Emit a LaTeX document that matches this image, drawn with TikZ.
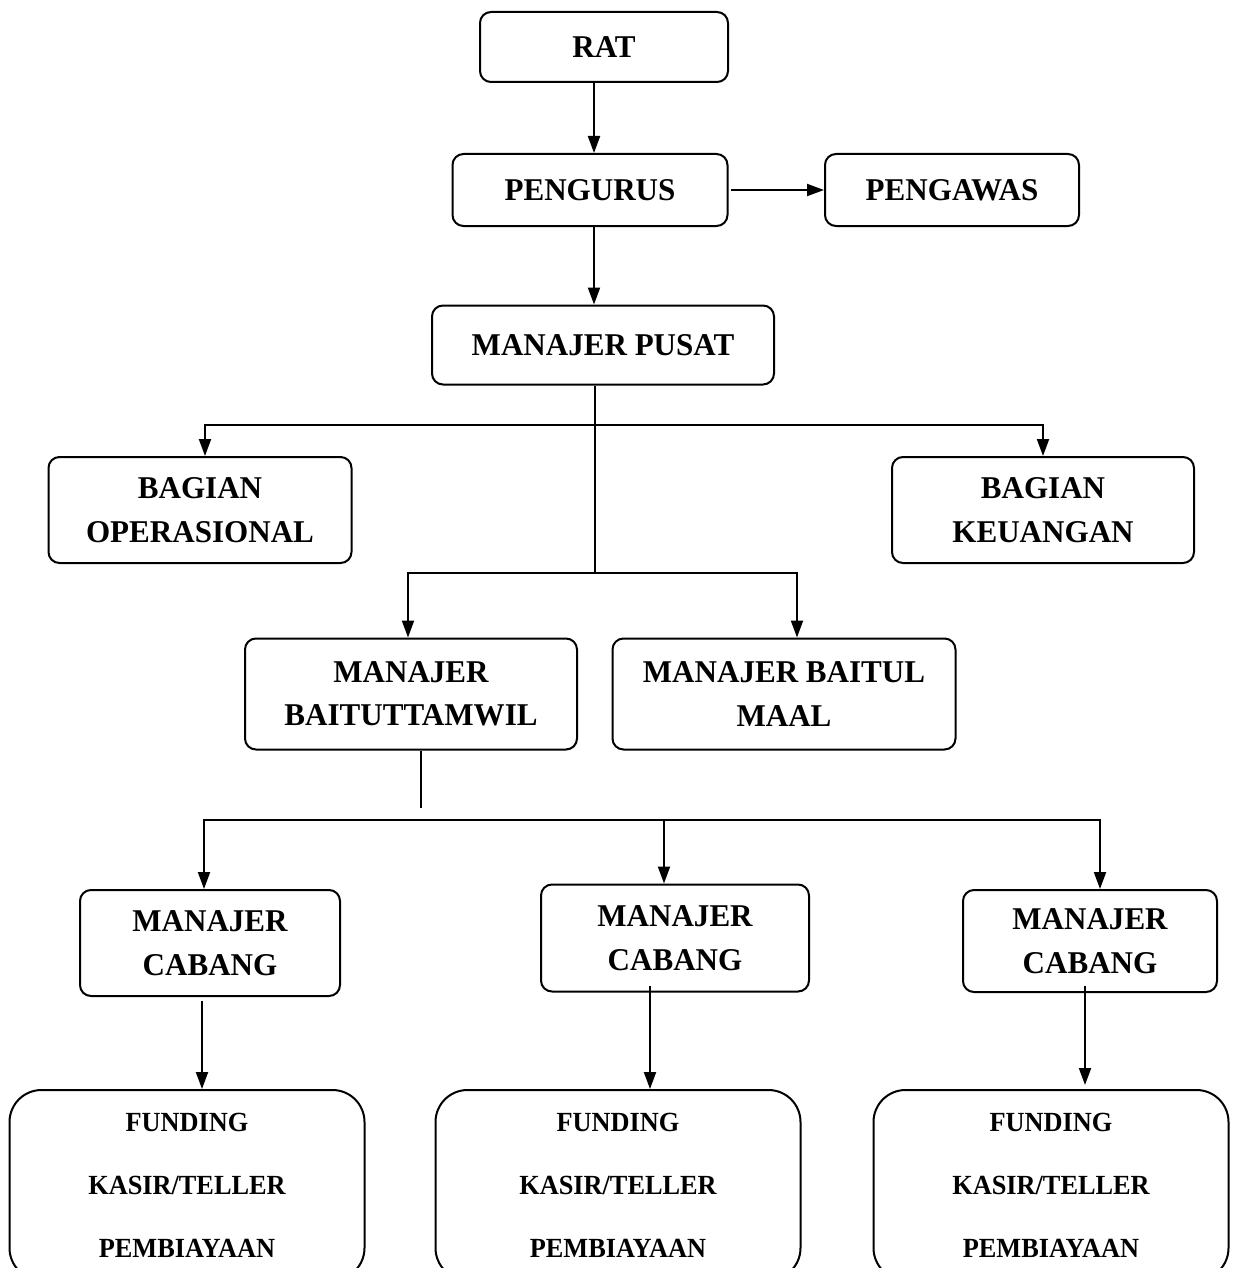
\documentclass[tikz,border=0pt]{standalone}
\usepackage{fontspec}
\setmainfont{Liberation Serif}
\newfontfamily\boxfont{Liberation Serif}[FakeStretch=0.98]
\newfontfamily\unitfont{Liberation Serif}[FakeStretch=0.95]
\usetikzlibrary{arrows.meta}

\tikzset{
  box/.style={draw, line width=2pt, rounded corners=11pt, align=center, inner sep=0pt,
    font=\boxfont\bfseries\fontsize{31.7pt}{43.5pt}\selectfont},
  unitbox/.style={draw, line width=2pt, rounded corners=32pt, align=center, inner sep=0pt,
    font=\unitfont\bfseries\fontsize{27.7pt}{63pt}\selectfont,
    minimum height=190pt},
  arr/.style={line width=2pt, -{Triangle[length=17pt,width=12pt]}},
  link/.style={line width=1.6pt}
}

\begin{document}
\begin{tikzpicture}[x=1pt,y=-1pt]
  \useasboundingbox (0,0) rectangle (1233,1268);
  \clip (0,0) rectangle (1233,1268);
  \begin{scope}
    \node[box, minimum width=248pt, minimum height=70pt] (rat) at (604,47) {RAT};
    \node[box, minimum width=275pt, minimum height=72pt] (pengurus) at (590,190) {PENGURUS};
    \node[box, minimum width=254pt, minimum height=72pt] (pengawas) at (952,190) {PENGAWAS};
    \node[box, minimum width=342pt, minimum height=79pt] (mpusat) at (603,345) {MANAJER PUSAT};

    \node[box, minimum width=303pt, minimum height=106pt] (opr) at (200,510) {BAGIAN\\OPERASIONAL};
    \node[box, minimum width=302pt, minimum height=106pt] (keu) at (1043,510) {BAGIAN\\KEUANGAN};

    \node[box, minimum width=332pt, minimum height=111pt] (mbt) at (411,694) {MANAJER\\BAITUTTAMWIL};
    \node[box, minimum width=343pt, minimum height=111pt] (mbm) at (784,694) {MANAJER BAITUL\\MAAL};

    \node[box, minimum width=260pt, minimum height=106pt] (cab1) at (210,943) {MANAJER\\CABANG};
    \node[box, minimum width=268pt, minimum height=107pt] (cab2) at (675,938) {MANAJER\\CABANG};
    \node[box, minimum width=254pt, minimum height=102pt] (cab3) at (1090,941) {MANAJER\\CABANG};

    \node[unitbox, minimum width=355pt] (unit1) at (187,1185) {FUNDING\\KASIR/TELLER\\PEMBIAYAAN};
    \node[unitbox, minimum width=365pt] (unit2) at (618,1185) {FUNDING\\KASIR/TELLER\\PEMBIAYAAN};
    \node[unitbox, minimum width=355pt] (unit3) at (1051,1185) {FUNDING\\KASIR/TELLER\\PEMBIAYAAN};

    \coordinate (t1) at (595,425);
    \coordinate (t2) at (595,573);
    \coordinate (t3) at (421,808);
    \coordinate (t4) at (664,820);

    \draw[arr] ([xshift=-10pt]rat.south) -- ([xshift=4pt]pengurus.north);
    \draw[arr] ([xshift=2pt]pengurus.east) -- (pengawas.west);
    \draw[arr] ([xshift=4pt]pengurus.south) -- ([xshift=-9pt]mpusat.north);

    \draw[link] ([xshift=-8pt]mpusat.south) -- (t2);
    \draw[arr] (t1) -| ([xshift=5pt]opr.north);
    \draw[arr] (t1) -| (keu.north);
    \draw[arr] (t2) -| ([xshift=-3pt]mbt.north);
    \draw[arr] (t2) -| ([xshift=13pt]mbm.north);

    \draw[link] ([xshift=10pt]mbt.south) -- (t3);
    \draw[arr] (t4) -| ([xshift=-6pt]cab1.north);
    \draw[arr] (t4) -- ([xshift=-11pt]cab2.north);
    \draw[arr] (t4) -| ([xshift=10pt]cab3.north);

    \draw[arr] ([xshift=-8pt,yshift=-4pt]cab1.south) -- ([xshift=15pt]unit1.north);
    \draw[arr] ([xshift=-25pt,yshift=7pt]cab2.south) -- ([xshift=32pt]unit2.north);
    \draw[arr] ([xshift=-5pt,yshift=7pt]cab3.south) -- ([xshift=34pt,yshift=4pt]unit3.north);
  \end{scope}
\end{tikzpicture}
\end{document}
